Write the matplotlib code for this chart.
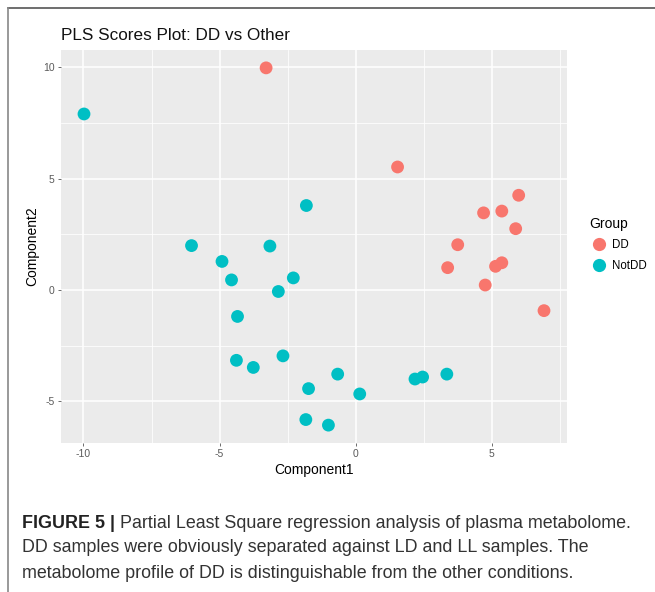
import matplotlib
matplotlib.use("Agg")
import matplotlib.pyplot as plt
from matplotlib.lines import Line2D
import numpy as np

# scores
dd_x = [-3.29, 1.54, 5.99, 4.70, 5.37, 5.88, 3.75, 3.38, 5.14, 5.37, 4.76, 6.92]
dd_y = [9.97, 5.52, 4.25, 3.46, 3.54, 2.75, 2.03, 1.00, 1.06, 1.22, 0.22, -0.93]

notdd_x = [-9.98, -1.81, -6.03, -3.15, -4.91, -4.56, -2.29, -2.84, -4.34, -4.38,
           -3.76, -2.67, -0.66, -1.73, 0.15, 2.18, 2.46, 3.35, -1.83, -1.00]
notdd_y = [7.90, 3.79, 1.99, 1.97, 1.28, 0.45, 0.54, -0.07, -1.19, -3.16,
           -3.48, -2.96, -3.78, -4.43, -4.67, -4.00, -3.91, -3.78, -5.82, -6.07]

groups = ["DD", "NotDD"]
colors = ["#F8766D", "#00BFC4"]

x_ticks = [-10, -5, 0, 5]
y_ticks = [-5, 0, 5, 10]

caption_bold = "FIGURE 5 |"
caption_lines = [
    " Partial Least Square regression analysis of plasma metabolome.",
    "DD samples were obviously separated against LD and LL samples. The",
    "metabolome profile of DD is distinguishable from the other conditions.",
]

plt.rcParams['font.family'] = ['Liberation Sans', 'DejaVu Sans']
plt.rcParams['axes.unicode_minus'] = False

fig = plt.figure(figsize=(6.55, 5.92), dpi=100)
W, H = 655, 592

# panel placed in pixel terms
left, right, top, bottom = 61, 567, 50, 443
ax = fig.add_axes([left / W, 1 - bottom / H, (right - left) / W, (bottom - top) / H])
ax.set_facecolor("#EBEBEB")

all_x = dd_x + notdd_x
all_y = dd_y + notdd_y
xr = max(all_x) - min(all_x)
yr = max(all_y) - min(all_y)
ax.set_xlim(min(all_x) - 0.05 * xr, max(all_x) + 0.05 * xr)
ax.set_ylim(min(all_y) - 0.05 * yr, max(all_y) + 0.05 * yr)

ax.set_xticks(x_ticks)
ax.set_yticks(y_ticks)
ax.set_xticks([-7.5, -2.5, 2.5, 7.5], minor=True)
ax.set_yticks([-2.5, 2.5, 7.5], minor=True)
ax.grid(True, which="major", color="white", linewidth=1.1)
ax.grid(True, which="minor", color="white", linewidth=0.55)
ax.set_axisbelow(True)
for s in ax.spines.values():
    s.set_visible(False)
ax.tick_params(which="major", length=2.5, width=0.6, color="#555555",
               labelsize=7.5, labelcolor="#5A5A5A", pad=2)
ax.tick_params(which="minor", length=0)

ax.scatter(dd_x, dd_y, s=85, color=colors[0], edgecolors="none", zorder=3)
ax.scatter(notdd_x, notdd_y, s=85, color=colors[1], edgecolors="none", zorder=3)

ax.set_xlabel("Component1", fontsize=10, labelpad=3)
ax.set_ylabel("Component2", fontsize=10, labelpad=3)
fig.text(left / W, 1 - 35 / H, "PLS Scores Plot: DD vs Other", fontsize=12.3,
         va="center", ha="left", color="#111111")

# legend
handles = [Line2D([], [], marker="o", linestyle="none", markersize=9.5,
                  markerfacecolor=c, markeredgecolor="none") for c in colors]
leg = fig.legend(handles, groups, title="Group", loc="upper left",
                 bbox_to_anchor=(585 / W, 1 - 212 / H), frameon=False,
                 fontsize=8.3, title_fontsize=10, handletextpad=0.3,
                 handlelength=1.6, labelspacing=0.75, borderaxespad=0)
leg._legend_box.align = "left"

# frame lines (top and left only, like the cropped figure box)
fig.add_artist(Line2D([8 / W, 1], [1 - 8 / H, 1 - 8 / H], transform=fig.transFigure,
                      color="#555555", linewidth=1.2))
fig.add_artist(Line2D([8 / W, 8 / W], [0, 1 - 8 / H], transform=fig.transFigure,
                      color="#888888", linewidth=1.2))

# caption, sized so the first line spans the same width as the original
cap_y = [523, 547, 573]
cap_left, cap_right = 22, 631
fs = 11.5
t = fig.text(cap_left / W, 1 - cap_y[0] / H, caption_bold, fontsize=fs,
             fontweight="bold", va="center", ha="left", color="#222222")
r = fig.text(0, 1 - cap_y[0] / H, caption_lines[0], fontsize=fs,
             va="center", ha="left", color="#333333")
fig.canvas.draw()
total = t.get_window_extent().width + r.get_window_extent().width
fs = fs * (cap_right - cap_left) / total
t.set_fontsize(fs)
r.set_fontsize(fs)
fig.canvas.draw()
r.set_x(t.get_window_extent().x1 / W)
for yy, line in zip(cap_y[1:], caption_lines[1:]):
    fig.text(cap_left / W, 1 - yy / H, line, fontsize=fs, va="center", ha="left",
             color="#333333")

fig.savefig("out.png", dpi=100)
